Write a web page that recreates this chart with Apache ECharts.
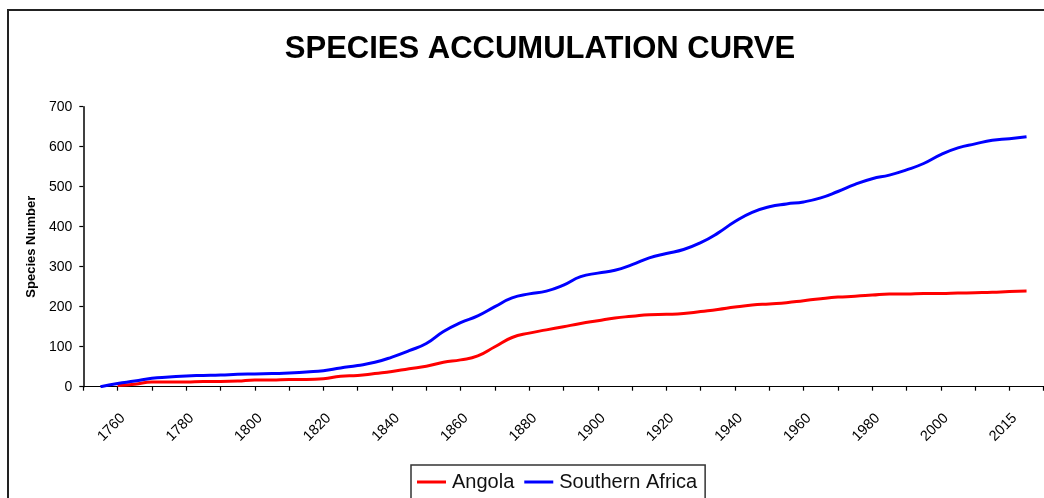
<!DOCTYPE html>
<html>
<head>
<meta charset="utf-8">
<script src="https://cdn.jsdelivr.net/npm/echarts@6/dist/echarts.min.js"></script>
<style>
html,body{margin:0;padding:0;background:#fff;}
#chart{width:1044px;height:498px;}
</style>
</head>
<body>
<div id="chart"></div>
<script>
// x categories (5-year slots, last slot labels as in the original)
var categories = ["1750","1755","1760","1765","1770","1775","1780","1785","1790","1795",
  "1800","1805","1810","1815","1820","1825","1830","1835","1840","1845",
  "1850","1855","1860","1865","1870","1875","1880","1885","1890","1895",
  "1900","1905","1910","1915","1920","1925","1930","1935","1940","1945",
  "1950","1955","1960","1965","1970","1975","1980","1985","1990","1995",
  "2000","2004","2008","2012","2015","2017","2019"];
var shownLabels = ["1760","1780","1800","1820","1840","1860","1880","1900","1920","1940","1960","1980","2000","2015"];

var angola = [null,null,3,6,12,12,12,13,13,14,17,17,18,18,20,26,28,33,38,45,
  51,61,67,77,100,123,134,142,150,158,165,172,176,180,181,183,188,193,199,204,
  207,210,215,220,224,226,229,232,232,233,233,234,235,236,238,239];

var southernAfrica = [null,0,8,14,21,24,27,28,29,31,32,33,34,37,40,47,53,61,74,90,
  108,138,160,177,200,222,232,239,254,275,284,291,305,322,333,343,360,384,413,436,
  450,457,462,472,488,506,520,529,542,558,580,597,607,616,620,625];

var FONT = 'Arial, "Liberation Sans", sans-serif';
var chart = echarts.init(document.getElementById('chart'), null, {renderer:'canvas'});
chart.setOption({
  backgroundColor: '#ffffff',
  animation: false,
  title: {
    text: 'SPECIES ACCUMULATION CURVE',
    left: 535, top: 29, textAlign: 'center',
    textStyle: {fontFamily: FONT, fontSize: 31, fontWeight: 'bold', color: '#000'}
  },
  graphic: [{
    type: 'rect', silent: true,
    shape: {x: 8, y: 10, width: 1100, height: 600},
    style: {fill: 'none', stroke: '#222', lineWidth: 2}
  }],
  legend: {
    left: 411, top: 465,
    padding: [7, 8, 30, 6],
    borderColor: '#333', borderWidth: 1.5,
    itemWidth: 29, itemHeight: 3, itemGap: 10,
    icon: 'rect',
    textStyle: {fontFamily: FONT, fontSize: 20, color: '#111', padding: [0,0,0,1]},
    data: ['Angola', 'Southern Africa']
  },
  grid: {left: 83.3, right: 0.3, top: 106.7, bottom: 111.3, containLabel: false},
  xAxis: {
    type: 'category', data: categories, boundaryGap: false,
    axisLine: {lineStyle: {color: '#000', width: 1.2}},
    axisTick: {interval: 1, length: 4, lineStyle: {color: '#000', width: 1.2}},
    axisLabel: {
      interval: function (i, v) { return shownLabels.indexOf(v) >= 0; },
      rotate: 45, margin: 24, verticalAlign: 'top',
      fontFamily: FONT, fontSize: 14.5, color: '#000'
    },
    splitLine: {show: false}
  },
  yAxis: {
    type: 'value', min: 0, max: 700, interval: 100,
    name: 'Species Number', nameLocation: 'middle', nameGap: 43, nameRotate: 90,
    nameTextStyle: {fontFamily: FONT, fontSize: 13, fontWeight: 'bold', color: '#000'},
    axisLine: {show: true, lineStyle: {color: '#000', width: 1.5}},
    axisTick: {show: true, length: 4, lineStyle: {color: '#000', width: 1.2}},
    axisLabel: {margin: 11, fontFamily: FONT, fontSize: 14, color: '#000'},
    splitLine: {show: false}
  },
  series: [
    {name: 'Angola', type: 'line', data: angola, smooth: true, showSymbol: false,
     lineStyle: {color: '#ff0000', width: 3}, itemStyle: {color: '#ff0000'}},
    {name: 'Southern Africa', type: 'line', data: southernAfrica, smooth: true, showSymbol: false,
     lineStyle: {color: '#0000ff', width: 3}, itemStyle: {color: '#0000ff'}}
  ]
});
</script>
</body>
</html>
